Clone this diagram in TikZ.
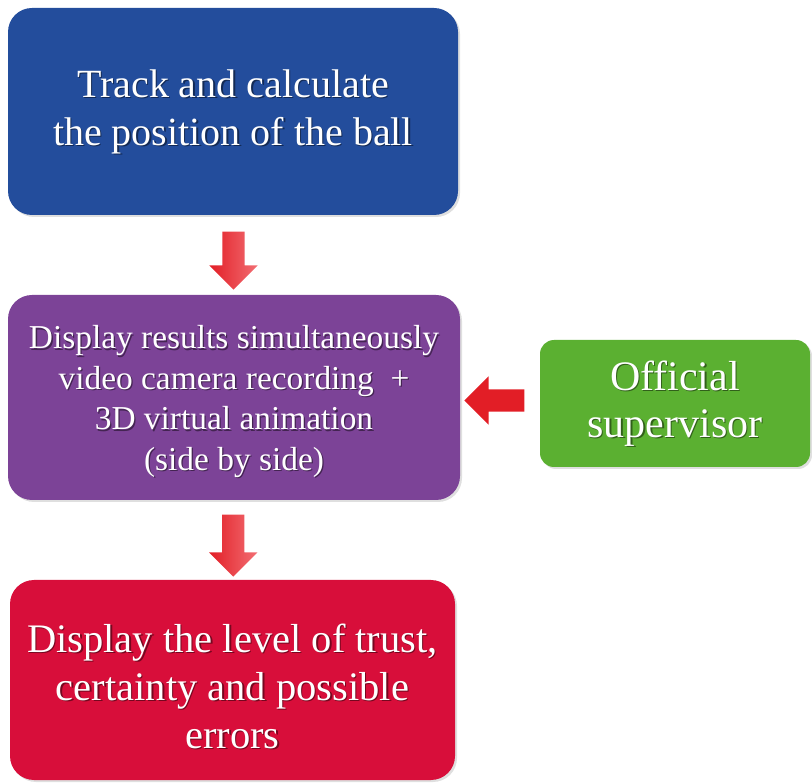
\documentclass[tikz,border=0pt]{standalone}
\usepackage{fontspec}
\setmainfont{Liberation Serif}
\usetikzlibrary{shapes.arrows,shadows}

\definecolor{trackblue}{RGB}{35,77,156}
\definecolor{showpurple}{RGB}{124,67,151}
\definecolor{trustred}{RGB}{216,14,58}
\definecolor{supgreen}{RGB}{91,176,49}
\definecolor{arrowred}{RGB}{226,30,38}
\definecolor{arrowpink}{RGB}{242,110,115}

\tikzset{
  box/.style={rounded corners=24pt, inner sep=0pt,
    drop shadow={opacity=0.25, shadow xshift=2pt, shadow yshift=-2pt}},
  txtwhite/.style={text=white, align=center, inner sep=0pt},
  txtshadow/.style={text=black, opacity=0.45, align=center, inner sep=0pt},
  downarrow/.style={single arrow, inner sep=11pt, single arrow head extend=13pt,
    single arrow tip angle=90, rotate=-90, left color=arrowred, right color=arrowpink},
  leftarrow/.style={single arrow, inner sep=11pt, single arrow head extend=13pt,
    single arrow tip angle=90, rotate=180, fill=arrowred}
}

% white label with a soft dark shadow under it
\newcommand{\shadowlabel}[3]{%
  \node[txtshadow,#2] at ([shift={(1.3pt,-1.5pt)}]#1) {#3};
  \node[txtwhite,#2] at (#1) {#3};}

\begin{document}
\begin{tikzpicture}[x=1pt,y=-1pt]
      \useasboundingbox (0,0) rectangle (812,783);

      % Boxes
      \node[box, fill=trackblue, minimum width=450pt, minimum height=207pt] (track) at (233,111.5) {};
      \node[box, fill=showpurple, minimum width=452pt, minimum height=205pt] (display) at (234,397.5) {};
      \node[box, fill=trustred, minimum width=445pt, minimum height=200pt] (trust) at (232.5,680) {};
      \node[box, fill=supgreen, minimum width=270pt, minimum height=127pt, rounded corners=14pt] (super) at (675,403.5) {};

      % Labels
      \shadowlabel{track}{font=\fontsize{40}{48}\selectfont}{Track and calculate\\the position of the ball}
      \shadowlabel{display}{yshift=-4pt, font=\fontsize{33.4}{40.5}\selectfont}{Display results simultaneously\\video camera recording\ \ +\\3D virtual animation\\(side by side)}
      \shadowlabel{trust}{yshift=-6pt, font=\fontsize{40.5}{48}\selectfont}{Display the level of trust,\\certainty and possible\\errors}
      \shadowlabel{super}{font=\fontsize{42}{47}\selectfont}{Official\\supervisor}

      % Arrows between the boxes
      \path (track.south) -- (display.north) node[midway, downarrow, minimum height=58pt] (arr1) {};
      \path (display.south) -- (trust.north) node[midway, downarrow, minimum height=62pt] (arr2) {};
      \path (super.west) -- (display.east) node[midway, leftarrow, minimum height=60pt] (arr3) {};
\end{tikzpicture}
\end{document}
